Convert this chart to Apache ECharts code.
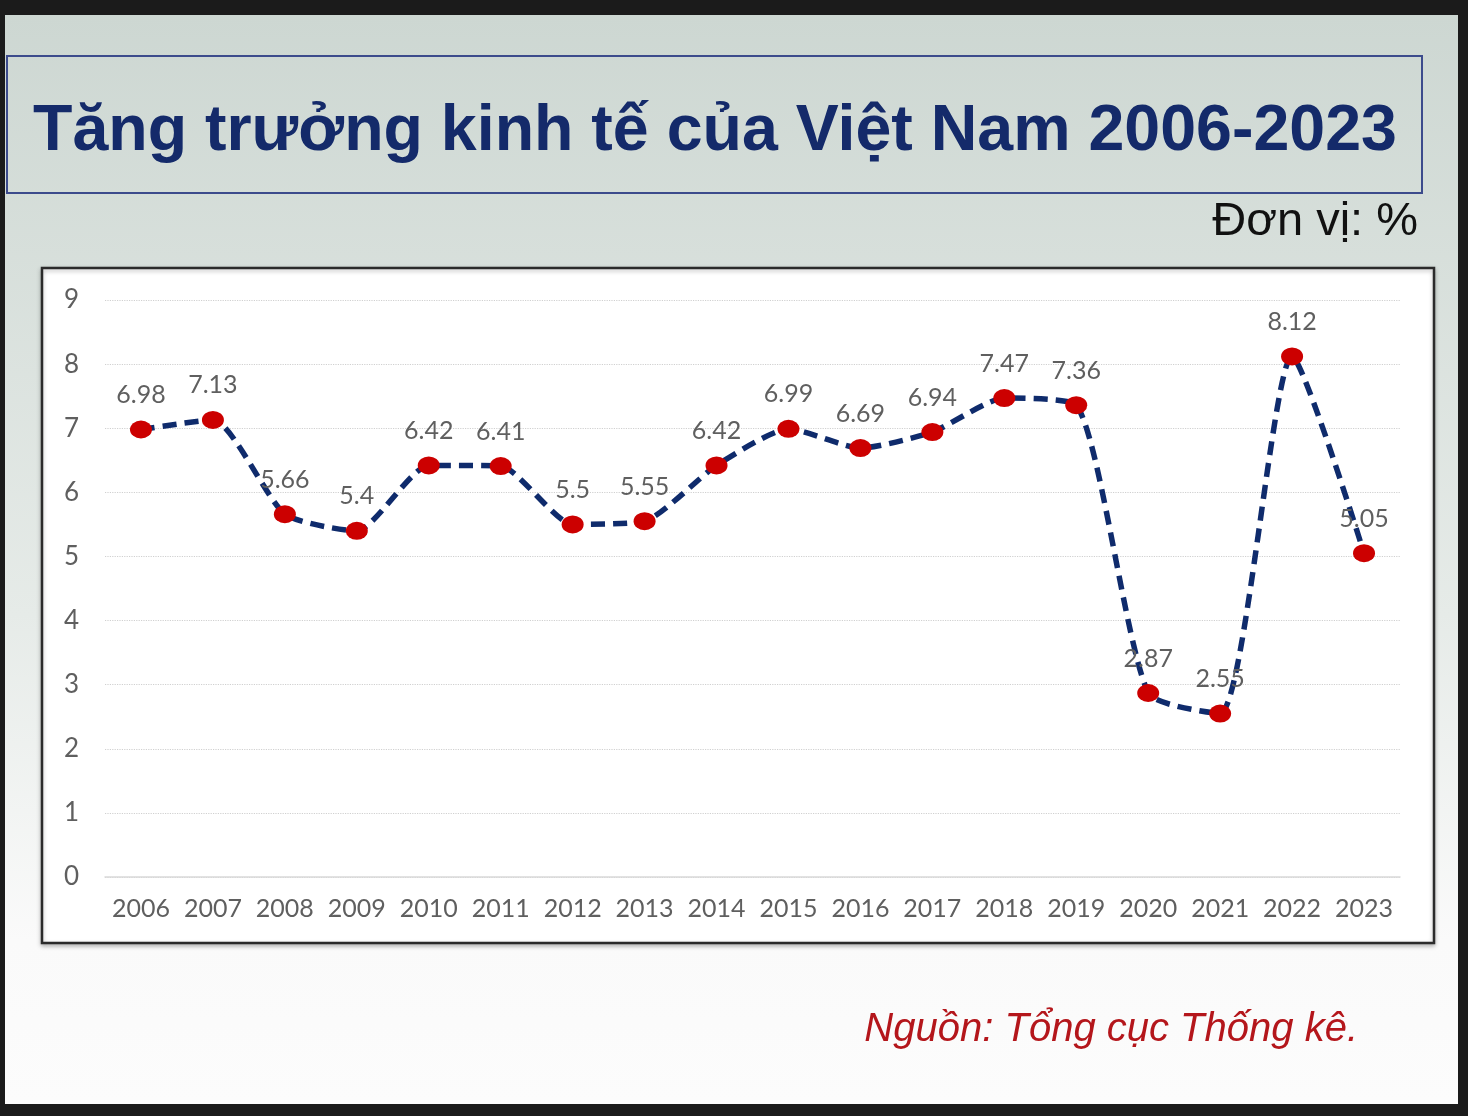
<!DOCTYPE html>
<html><head><meta charset="utf-8">
<script src="https://cdn.jsdelivr.net/npm/echarts@6/dist/echarts.min.js"></script>
<style>html,body{margin:0;padding:0;background:#1b1b1b;}#c{width:1468px;height:1116px;}</style>
</head><body><div id="c"></div>
<script>
const years = ['2006','2007','2008','2009','2010','2011','2012','2013','2014','2015','2016','2017','2018','2019','2020','2021','2022','2023'];
const growth = [6.98, 7.13, 5.66, 5.4, 6.42, 6.41, 5.5, 5.55, 6.42, 6.99, 6.69, 6.94, 7.47, 7.36, 2.87, 2.55, 8.12, 5.05];
const yTicks = [0, 9, 1]; // min, max, interval
const titleText = 'Tăng trưởng kinh tế của Việt Nam 2006-2023';
const unitText = 'Đơn vị: %';
const sourceText = 'Nguồn: Tổng cục Thống kê.';

const chart = echarts.init(document.getElementById('c'), null, {renderer: 'canvas'});
const labelFont = 'Lato, "Open Sans", sans-serif';
chart.setOption({
  animation: false,
  backgroundColor: '#1b1b1b',
  graphic: [
    {type: 'rect', z: -10, shape: {x: 5, y: 15, width: 1453, height: 1089},
     style: {fill: new echarts.graphic.LinearGradient(0, 0, 0, 1, [
       {offset: 0, color: '#cdd7d2'}, {offset: 0.55, color: '#e6ebe8'}, {offset: 0.85, color: '#fafafa'}, {offset: 1, color: '#fcfcfc'}])}},
    {type: 'rect', z: -9, shape: {x: 7, y: 56, width: 1415, height: 137},
     style: {fill: 'transparent', stroke: '#3c4b8c', lineWidth: 2}},
    {type: 'rect', z: -9, shape: {x: 42, y: 268, width: 1392, height: 675},
     style: {fill: '#ffffff', stroke: '#2b2b2b', lineWidth: 2.5, shadowBlur: 4, shadowColor: 'rgba(0,0,0,0.25)', shadowOffsetY: 2}}
  ],
  title: [
    {text: titleText, left: 33, top: 100, padding: 0,
     textStyle: {fontFamily: '"Liberation Sans", Arial, sans-serif', fontWeight: 'bold', fontSize: 64.5, color: '#142a6a'}},
    {text: unitText, right: 50, top: 199, padding: 0,
     textStyle: {fontFamily: '"Liberation Sans", Arial, sans-serif', fontWeight: 'normal', fontSize: 47, color: '#111111'}},
    {text: sourceText, right: 110, top: 1010, padding: 0,
     textStyle: {fontFamily: '"Liberation Sans", Arial, sans-serif', fontStyle: 'italic', fontWeight: 'normal', fontSize: 40, color: '#b4161b'}}
  ],
  grid: {left: 105, right: 68, top: 300, bottom: 239},
  xAxis: {
    type: 'category', data: years, boundaryGap: true,
    axisLine: {show: true, lineStyle: {color: '#d9d9d9', width: 1.5}},
    axisTick: {show: false},
    axisLabel: {color: '#5f5f5f', fontSize: 25, fontFamily: labelFont, margin: 19, interval: 0}
  },
  yAxis: {
    type: 'value', min: yTicks[0], max: yTicks[1], interval: yTicks[2],
    axisLine: {show: false}, axisTick: {show: false},
    axisLabel: {color: '#5f5f5f', fontSize: 26, fontFamily: labelFont, margin: 26},
    splitLine: {show: true, lineStyle: {color: '#d0d0d0', type: 'dotted', width: 1.2}}
  },
  series: [{
    type: 'line', data: growth, smooth: 0.2,
    symbol: 'circle', symbolSize: [22, 18],
    itemStyle: {color: '#cc0000'},
    lineStyle: {color: '#0f2b6c', width: 5.5, type: [14, 8]},
    label: {show: true, position: 'top', distance: 13, color: '#5f5f5f', fontSize: 25, fontFamily: labelFont},
    z: 3
  }]
});
</script></body></html>
